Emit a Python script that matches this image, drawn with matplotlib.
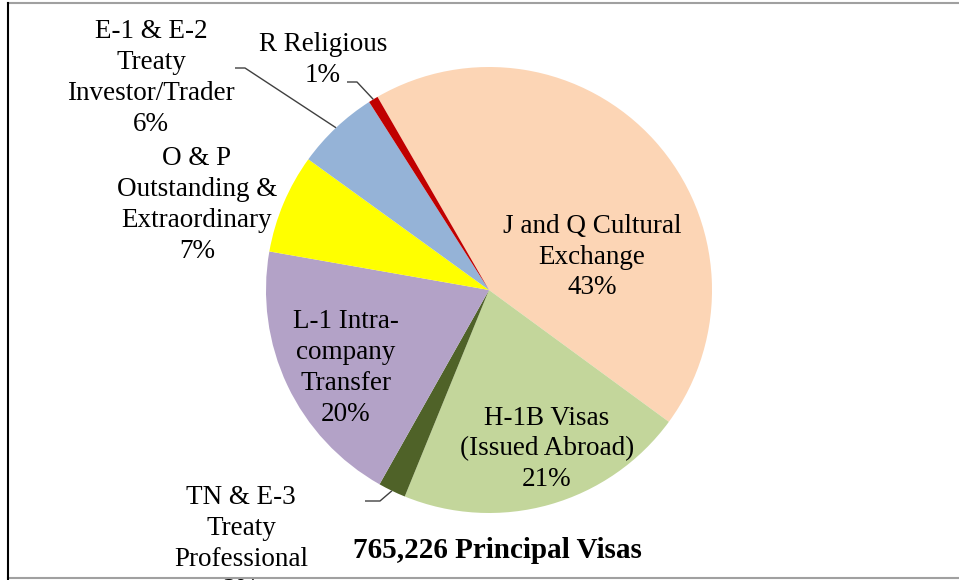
import numpy as np
import matplotlib
matplotlib.use("Agg")
import matplotlib.pyplot as plt
from matplotlib.lines import Line2D

categories = ["J and Q Cultural\nExchange", "H-1B Visas\n(Issued Abroad)",
              "TN & E-3\nTreaty\nProfessional", "L-1 Intra-\ncompany\nTransfer",
              "O & P\nOutstanding &\nExtraordinary", "E-1 & E-2\nTreaty\nInvestor/Trader",
              "R Religious"]
shares = [43.4, 21.1, 2.0, 19.6, 7.2, 6.0, 0.7]
pct_labels = ["43%", "21%", "2%", "20%", "7%", "6%", "1%"]
colors = ["#FCD5B5", "#C3D69B", "#4F6228", "#B3A2C7", "#FFFF00", "#95B3D7", "#C00000"]
title = "765,226 Principal Visas"

W, H = 959, 580
fig = plt.figure(figsize=(W / 100, H / 100), dpi=100)
ax = fig.add_axes([0, 0, 1, 1])

cx, cy, R = 489, H - 290, 223
wedges, _ = ax.pie(shares, colors=colors, startangle=120, counterclock=False,
                   center=(cx, cy), radius=R, frame=True,
                   wedgeprops=dict(linewidth=0))
ax.set_xlim(0, W)
ax.set_ylim(0, H)
ax.axis("off")

font = dict(family="Liberation Serif", fontsize=19.5, color="black",
            ha="center", va="center", linespacing=1.3)

# label centres in pixel space (x, y from top)
label_pos = [(592, 257), (547, 449), (241, 544), (346, 368),
             (197, 205), (151, 78), (323, 60)]
for cat, pct, (x, y) in zip(categories, pct_labels, label_pos):
    ax.text(x, H - y, cat + "\n" + pct, **font)

ax.text(497, H - 550, title, family="Liberation Serif", fontsize=21,
        fontweight="bold", ha="center", va="center")

# leader lines
def edge_point(w):
    mid = np.deg2rad((w.theta1 + w.theta2) / 2)
    return cx + R * np.cos(mid), cy + R * np.sin(mid)

leaders = {6: [(357, 82), (347, 82)], 5: [(245, 68), (235, 68)],
           2: [(380, 501), (365, 501)]}
for i, pts in leaders.items():
    x0, y0 = edge_point(wedges[i])
    xs = [x0] + [p[0] for p in pts]
    ys = [y0] + [H - p[1] for p in pts]
    ax.plot(xs, ys, color="#404040", lw=1.0, solid_capstyle="butt")

# frame lines
fig.add_artist(Line2D([8 / W, 1], [1 - 3 / H, 1 - 3 / H], color="#A0A0A0", lw=1.5))
fig.add_artist(Line2D([8 / W, 1], [1 - 578 / H, 1 - 578 / H], color="#A0A0A0", lw=1.5))
fig.add_artist(Line2D([8 / W, 8 / W], [0, 1 - 3 / H], color="black", lw=1.5))

fig.savefig("out.png", dpi=100, facecolor="white")
